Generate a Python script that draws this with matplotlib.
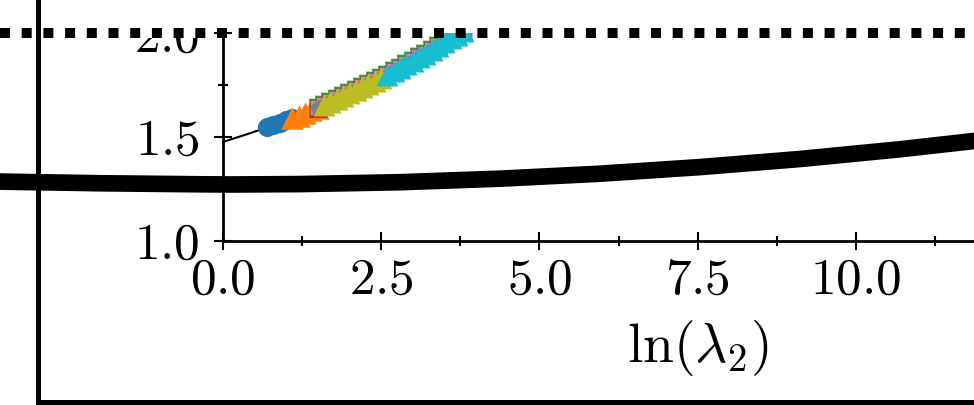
import matplotlib
matplotlib.use("Agg")

import matplotlib.pyplot as plt
from matplotlib.ticker import MultipleLocator
from matplotlib.transforms import Bbox, TransformedBbox

plt.rcParams["font.family"] = "serif"
plt.rcParams["font.serif"] = ["cmr10", "DejaVu Serif"]
plt.rcParams["mathtext.fontset"] = "cm"
plt.rcParams["axes.formatter.use_mathtext"] = True

# ── data ────────────────────────────────────────────────────────────
# points along the coloured band, ln(lambda_2) vs value
band_x = [0.7, 0.8, 0.9, 1.0, 1.1, 1.2, 1.3, 1.4, 1.5, 1.6, 1.7,
          1.8, 1.9, 2.0, 2.1, 2.2, 2.3, 2.4, 2.5, 2.6, 2.7, 2.8,
          2.9, 3.0, 3.1, 3.2, 3.3, 3.4, 3.5, 3.6, 3.7, 3.8]
band_y = [1.546, 1.557, 1.568, 1.580, 1.591, 1.603, 1.616, 1.628, 1.641,
          1.655, 1.668, 1.682, 1.696, 1.710, 1.725, 1.739, 1.754, 1.770,
          1.785, 1.801, 1.817, 1.834, 1.851, 1.868, 1.885, 1.902, 1.920,
          1.938, 1.956, 1.975, 1.994, 2.013]
# which band points belong to each series (start, stop)
series_ranges = [(0, 5), (4, 9), (8, 32), (8, 32), (8, 32), (8, 32),
                 (8, 32), (8, 32), (9, 19), (19, 32)]

# thin fitted line
fit_x = [0.0, 0.35, 0.7, 1.5, 2.5, 3.5, 4.0]
fit_y = [1.476, 1.510, 1.546, 1.641, 1.785, 1.956, 2.06]

# thick reference curve (same units as the inset)
curve_x = [-3.80, -3.52, -1.94, -0.36, 0.12, 1.23, 2.80, 4.38, 5.96,
           7.54, 9.12, 10.70, 11.87, 12.28]
curve_y = [1.288, 1.285, 1.277, 1.272, 1.271, 1.273, 1.282, 1.299, 1.323,
           1.355, 1.394, 1.441, 1.481, 1.496]

# dotted level
level_x = [-3.52, 12.1]
level_y = [2.0, 2.0]

x_ticks = [0.0, 2.5, 5.0, 7.5, 10.0, 12.5]
y_ticks = [1.0, 1.5, 2.0]

# ── styles ──────────────────────────────────────────────────────────
series_styles = [
    ("C0", "o", 190), ("C1", "^", 260), ("C2", "v", 200), ("C3", "^", 190),
    ("C4", "<", 170), ("C5", ">", 170), ("C6", "s", 110), ("C7", "p", 150),
    ("C8", "^", 250), ("C9", "^", 250),
]

W, H = 974, 405
fig = plt.figure(figsize=(W / 100, H / 100), dpi=100)
fig.patch.set_facecolor("white")

ax_out = fig.add_axes([37.5 / W, 3 / H, 1.05, 1.05])
ax_in = fig.add_axes([222.7 / W, (H - 240.7) / H, 15 * 63.33 / W, 207.4 / H])

ax_in.set_xlim(0, 15)
ax_in.set_ylim(1.0, 2.0)

# outer axes share the inset's scale
inv = ax_in.transData.inverted()
(x0, y0), (x1, y1) = inv.transform(ax_out.transAxes.transform([(0, 0), (1, 1)]))
ax_out.set_xlim(x0, x1)
ax_out.set_ylim(y0, y1)

ax_in.set_zorder(1)
ax_out.set_zorder(2)
ax_in.patch.set_visible(False)
ax_out.patch.set_visible(False)

# ── outer frame ─────────────────────────────────────────────────────
for side in ("top", "right"):
    ax_out.spines[side].set_visible(False)
for side in ("left", "bottom"):
    ax_out.spines[side].set_linewidth(3.6)
ax_out.set_xticks([])
ax_out.set_yticks([])

ax_out.plot(curve_x, curve_y, color="black", lw=12, clip_on=False,
            solid_capstyle="butt", solid_joinstyle="round")
ax_out.plot(level_x, level_y, color="black", lw=7.2, clip_on=False,
            linestyle=(0, (1, 1.17)), dash_capstyle="butt")

# ── inset ───────────────────────────────────────────────────────────
ax_in.plot(fit_x, fit_y, color="black", lw=1.5, zorder=2)
for (start, stop), (color, marker, size) in zip(series_ranges, series_styles):
    ax_in.scatter(band_x[start:stop], band_y[start:stop], s=size,
                  color=color, marker=marker, linewidths=0, zorder=3)

for side in ("top", "right"):
    ax_in.spines[side].set_visible(False)
for side in ("left", "bottom"):
    ax_in.spines[side].set_linewidth(2.0)

ax_in.set_xticks(x_ticks)
ax_in.set_yticks(y_ticks)
ax_in.xaxis.set_minor_locator(MultipleLocator(1.25))
ax_in.yaxis.set_minor_locator(MultipleLocator(0.25))
ax_in.tick_params(which="major", direction="inout", length=13, width=1.5,
                  labelsize=37)
ax_in.tick_params(which="minor", direction="inout", length=6.5, width=1.5)
ax_in.tick_params(axis="x", which="major", pad=6)
ax_in.tick_params(axis="y", which="major", pad=10)
ax_in.set_xlabel(r"$\ln(\lambda_2)$", fontsize=40, labelpad=10)

# top of the "2.0" label is hidden behind the frame's dotted edge
clip = TransformedBbox(Bbox.from_extents(0, 0, 1, (H - 38) / H), fig.transFigure)
for tick in ax_in.yaxis.get_major_ticks():
    tick.label1.set_clip_box(clip)
    tick.label1.set_clip_on(True)

fig.savefig("out.png", dpi=100, facecolor="white")
